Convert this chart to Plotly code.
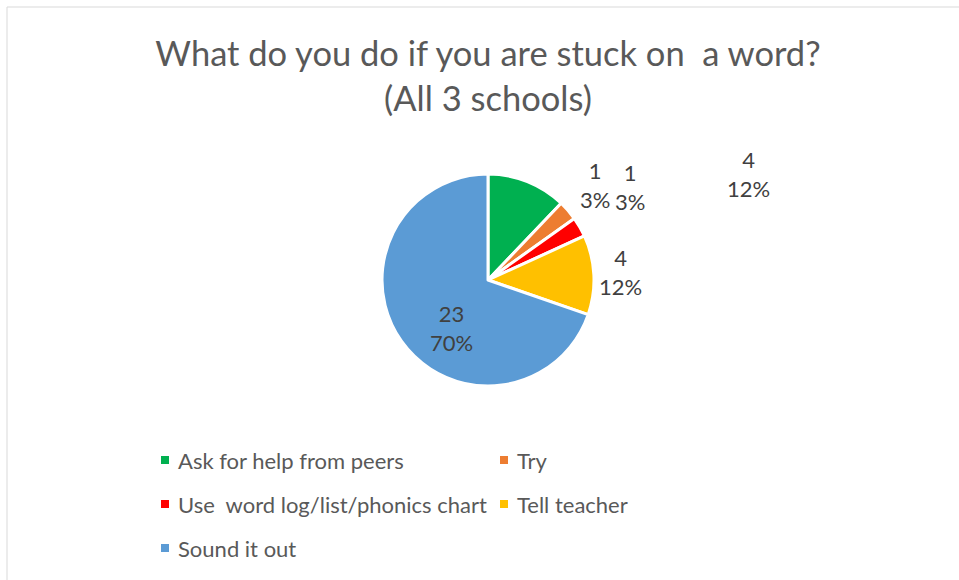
import plotly.graph_objects as go

# Survey responses: "What do you do if you are stuck on a word?"
labels = [
    "Ask for help from peers",
    "Try",
    "Use\u00a0 word log/list/phonics chart",
    "Tell teacher",
    "Sound it out",
]
counts = [4, 1, 1, 4, 23]
colors = ["#00B050", "#ED7D31", "#FF0000", "#FFC000", "#5B9BD5"]

W, H = 959, 580
FONT = "Lato"
GREY = "#595959"

total = sum(counts)
pct = [round(100 * c / total) for c in counts]


def px(x):
    return x / W


def py(y):
    return 1 - y / H


# pie centre and radius in pixels
cx, cy, r = 488, 280, 106

fig = go.Figure(
    go.Pie(
        labels=labels,
        values=counts,
        sort=False,
        direction="clockwise",
        rotation=0,
        marker=dict(colors=colors, line=dict(color="white", width=3)),
        textinfo="none",
        hoverinfo="label+value+percent",
        showlegend=False,
        domain=dict(x=[px(cx - r), px(cx + r)], y=[py(cy + r), py(cy - r)]),
    )
)

# data label anchor points (pixels) for each slice
label_pos = [(748, 174), (595, 185), (630, 187), (620, 272), (451, 328)]
annotations = []
for (lx, ly), c, p in zip(label_pos, counts, pct):
    annotations.append(
        dict(
            x=px(lx), y=py(ly), xref="paper", yref="paper",
            text=f"{c}<br>{p}%", showarrow=False,
            font=dict(family=FONT, size=22, color="#404040"),
            xanchor="center", yanchor="middle",
        )
    )

# two-column legend below the pie
col_x = [165, 504]
row_y = [460, 504, 548]
shapes = []
for i, (lab, col) in enumerate(zip(labels, colors)):
    mx = col_x[i % 2]
    my = row_y[i // 2]
    shapes.append(
        dict(
            type="rect", xref="paper", yref="paper",
            x0=px(mx - 4), x1=px(mx + 4), y0=py(my + 4), y1=py(my - 4),
            fillcolor=col, line=dict(width=0),
        )
    )
    annotations.append(
        dict(
            x=px(mx + 11), y=py(my), xref="paper", yref="paper",
            text=lab, showarrow=False,
            font=dict(family=FONT, size=22, color=GREY),
            xanchor="left", yanchor="middle",
        )
    )

# chart area frame
shapes.append(
    dict(
        type="rect", xref="paper", yref="paper",
        x0=px(7), x1=px(W + 10), y0=py(H + 10), y1=py(7),
        line=dict(color="#D9D9D9", width=1), fillcolor="rgba(0,0,0,0)",
    )
)

fig.update_layout(
    width=W,
    height=H,
    margin=dict(l=0, r=0, t=0, b=0),
    paper_bgcolor="white",
    plot_bgcolor="white",
    title=dict(
        text="What do you do if you are stuck on\u00a0 a word?<br>(All 3 schools)",
        x=px(488), y=py(66), xanchor="center", yanchor="middle",
        font=dict(family=FONT, size=34.5, color=GREY),
    ),
    annotations=annotations,
    shapes=shapes,
)

fig.write_html("out.html")
